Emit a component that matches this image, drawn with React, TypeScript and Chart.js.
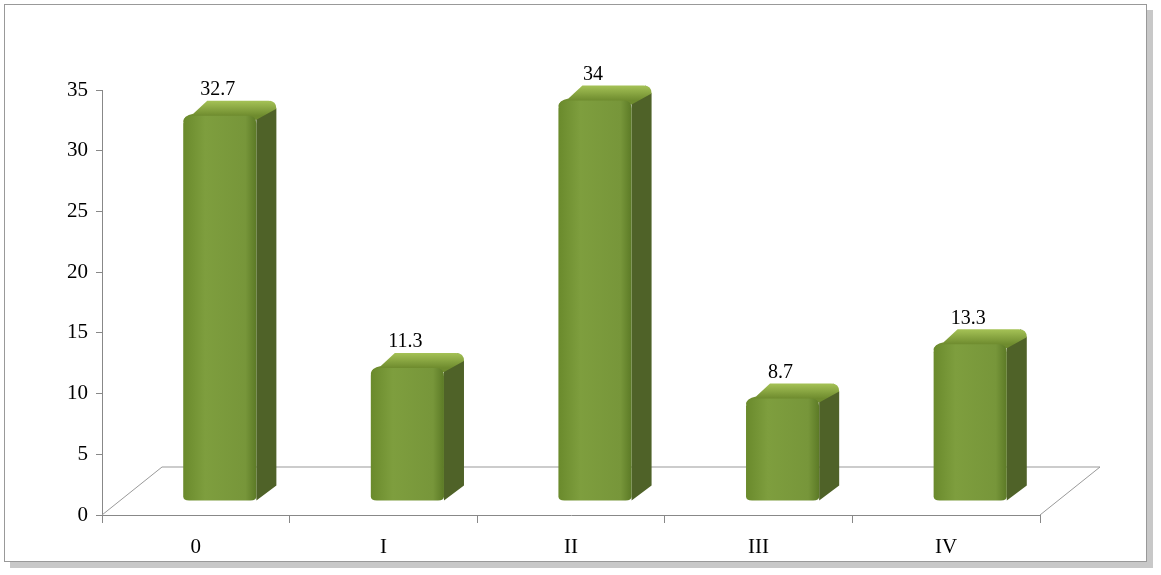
import React, { useEffect, useRef } from "react";
import { Chart, registerables } from "chart.js";
Chart.register(...registerables);

const categories = ["0", "I", "II", "III", "IV"];
const values = [32.7, 11.3, 34, 8.7, 13.3];
const labels = ["32.7", "11.3", "34", "8.7", "13.3"];

const DX = 24, DY = 14, DEPX = 20, DEPY = 15;

const threeD = {
  id: "threeD",
  beforeDatasetsDraw(chart: any) {
    const ctx = chart.ctx;
    const a = chart.chartArea;
    const fx = 60, fy = 48;
    ctx.save();
    ctx.strokeStyle = "#999";
    ctx.lineWidth = 1;
    ctx.beginPath();
    ctx.moveTo(a.left, a.bottom);
    ctx.lineTo(a.left + fx, a.bottom - fy);
    ctx.lineTo(a.right + fx, a.bottom - fy);
    ctx.lineTo(a.right, a.bottom);
    ctx.stroke();
    ctx.restore();
  },
  afterDatasetsDraw(chart: any) {
    const ctx = chart.ctx;
    const meta = chart.getDatasetMeta(0);
    ctx.save();
    meta.data.forEach((bar: any, i: number) => {
      const w = bar.width;
      const l = bar.x - w / 2 + DX;
      const r = bar.x + w / 2 + DX;
      const b = bar.base - DY;
      const t = b - (bar.base - bar.y) * 0.97;
      ctx.fillStyle = "#4F6228";
      ctx.beginPath();
      ctx.moveTo(r - 6, t);
      ctx.lineTo(r + DEPX - 6, t - DEPY);
      ctx.lineTo(r + DEPX, t - DEPY + 8);
      ctx.lineTo(r + DEPX, b - DEPY);
      ctx.lineTo(r, b);
      ctx.lineTo(r, t);
      ctx.closePath();
      ctx.fill();
      const tg = ctx.createLinearGradient(0, t - DEPY, 0, t);
      tg.addColorStop(0, "#A5C256");
      tg.addColorStop(1, "#6E8B2E");
      ctx.fillStyle = tg;
      ctx.beginPath();
      ctx.moveTo(l, t + 6);
      ctx.quadraticCurveTo(l, t, l + 10, t - 2);
      ctx.lineTo(l + DEPX + 4, t - DEPY);
      ctx.lineTo(r + DEPX - 8, t - DEPY);
      ctx.quadraticCurveTo(r + DEPX, t - DEPY, r + DEPX, t - DEPY + 8);
      ctx.lineTo(r, t + 4);
      ctx.closePath();
      ctx.fill();
      const g = ctx.createLinearGradient(l, 0, r, 0);
      g.addColorStop(0, "#6A8A2C");
      g.addColorStop(0.3, "#7E9E3E");
      g.addColorStop(0.85, "#77963A");
      g.addColorStop(1, "#5C7A26");
      ctx.fillStyle = g;
      ctx.beginPath();
      ctx.moveTo(l, t + 8);
      ctx.quadraticCurveTo(l, t, l + 8, t);
      ctx.lineTo(r - 8, t);
      ctx.quadraticCurveTo(r, t, r, t + 8);
      ctx.lineTo(r, b - 4);
      ctx.quadraticCurveTo(r, b, r - 6, b);
      ctx.lineTo(l + 6, b);
      ctx.quadraticCurveTo(l, b, l, b - 4);
      ctx.closePath();
      ctx.fill();
      ctx.fillStyle = "#000";
      ctx.font = "20px 'Liberation Serif', 'Times New Roman', serif";
      ctx.textAlign = "center";
      ctx.textBaseline = "bottom";
      ctx.fillText(labels[i], bar.x + DX - 2, t - DEPY - 1);
    });
    ctx.restore();
  },
};

export default function App() {
  const ref = useRef<HTMLCanvasElement>(null);
  useEffect(() => {
    const chart = new Chart(ref.current!, {
      type: "bar",
      data: {
        labels: categories,
        datasets: [{ data: values, backgroundColor: "rgba(0,0,0,0)", barPercentage: 0.39, categoryPercentage: 1 }],
      },
      plugins: [threeD],
      options: {
        animation: false,
        responsive: false,
        layout: { padding: { top: 90, right: 121, left: 0, bottom: 0 } },
        plugins: { legend: { display: false }, tooltip: { enabled: false } },
        scales: {
          y: {
            min: 0, max: 35,
            ticks: { stepSize: 5, color: "#000", font: { size: 21, family: "'Liberation Serif', serif" }, padding: 8 },
            grid: { display: true, drawOnChartArea: false, tickLength: 6, color: "#888" },
            border: { display: true, color: "#888" },
            afterFit: (s: any) => { s.width = 102; },
          },
          x: {
            ticks: { color: "#000", font: { size: 21, family: "'Liberation Serif', serif" }, padding: 12 },
            grid: { display: true, drawOnChartArea: false, tickLength: 8, color: "#888", offset: true },
            border: { display: true, color: "#888" },
            afterFit: (s: any) => { s.height = 60; },
          },
        },
      },
    });
    return () => chart.destroy();
  }, []);
  return (
    <div style={{ position: "absolute", left: 0, top: 0, width: 1161, height: 575, background: "#fff" }}>
      <div style={{ position: "absolute", left: 4, top: 4, width: 1141, height: 556, border: "1px solid #999", boxShadow: "6px 6px 0 #C8C8C8" }} />
      <canvas ref={ref} width={1161} height={575} style={{ position: "absolute", left: 0, top: 0 }} />
    </div>
  );
}
